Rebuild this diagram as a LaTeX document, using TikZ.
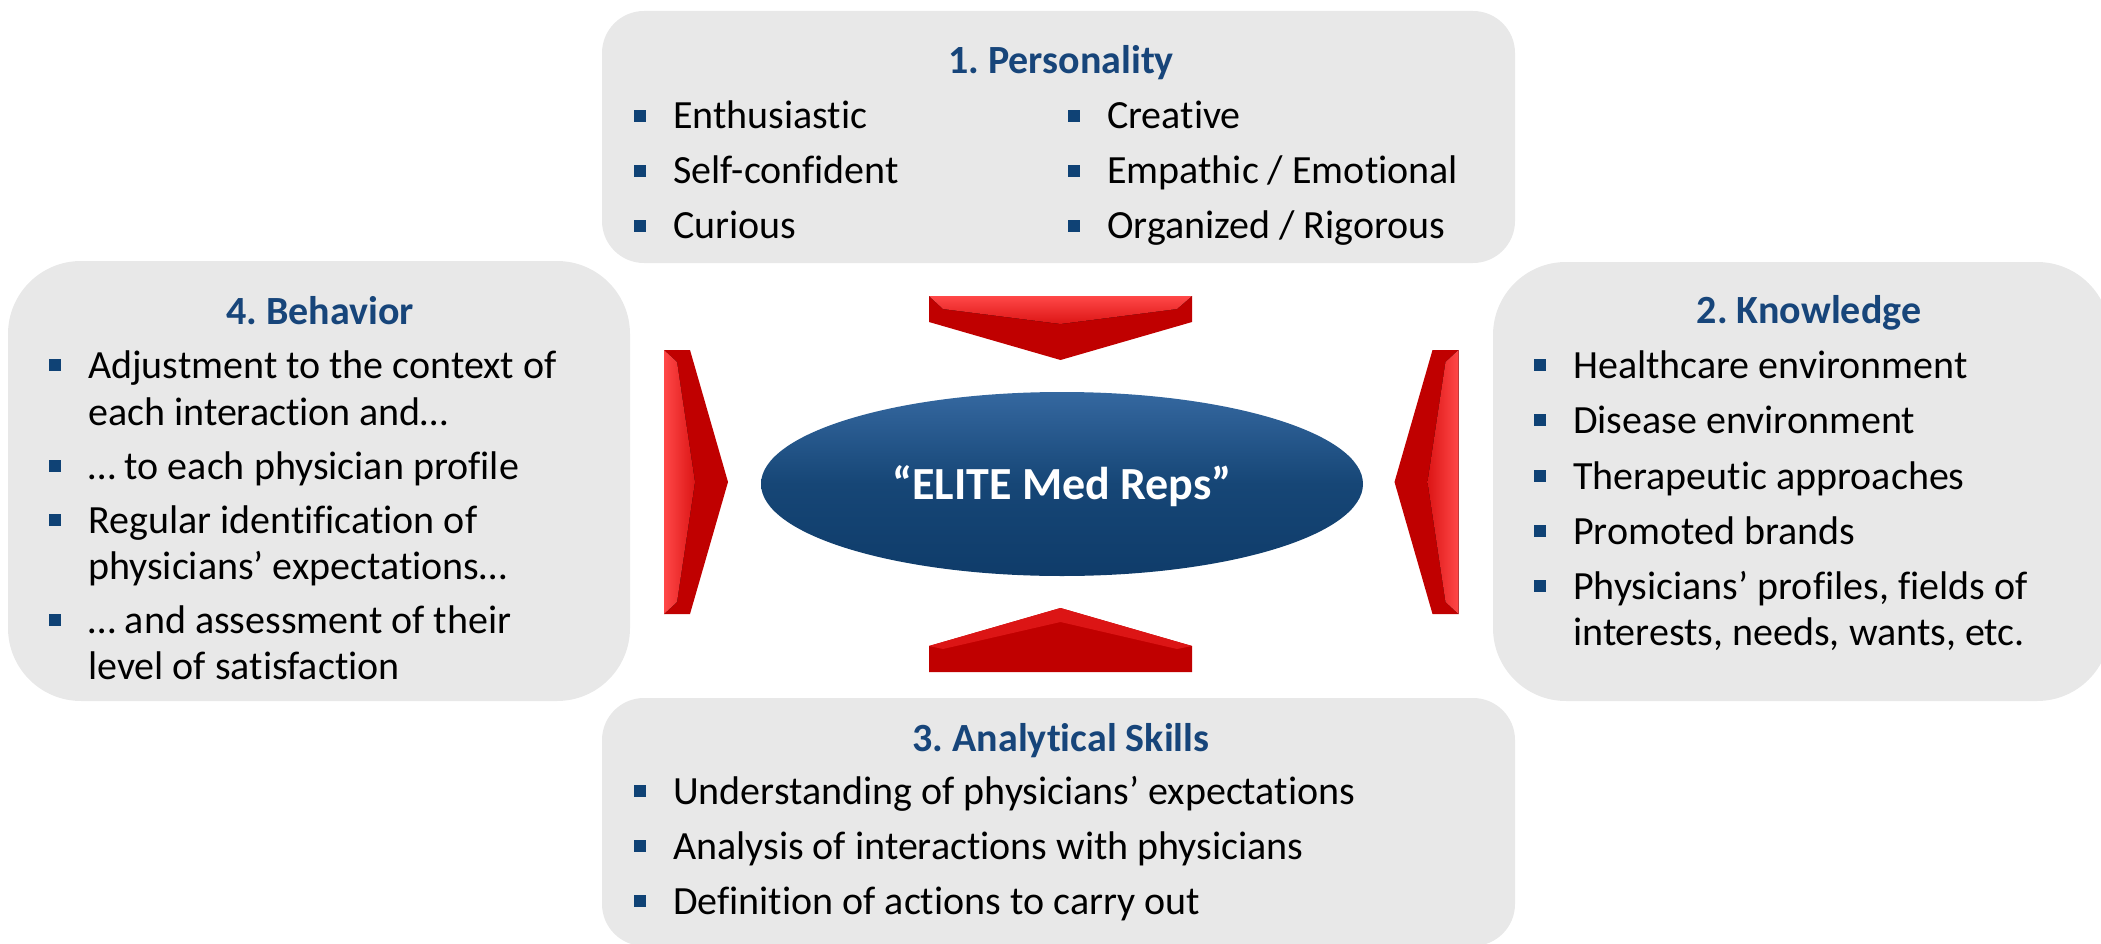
\documentclass[tikz,border=0pt]{standalone}
\usepackage{fontspec}
\setmainfont{Carlito}[Ligatures={NoCommon}]
\frenchspacing
\usetikzlibrary{shapes.geometric}
\definecolor{boxgray}{HTML}{E8E8E8}
\definecolor{titleblue}{HTML}{17457A}
\definecolor{bulblue}{HTML}{0F4275}
\definecolor{arrdark}{HTML}{C00000}
\definecolor{arrmid}{HTML}{DC1515}
\definecolor{arrlight}{HTML}{FF4848}
\definecolor{elltop}{HTML}{3568A0}
\definecolor{ellmid}{HTML}{164676}
\definecolor{ellbot}{HTML}{0F3C6A}
\newcommand{\mybul}[4]{%
  \node[bul] (#1m) at (#2-33,#3-13) {};
  \node[txt] (#1) at (#2,#3) {#4};}
\begin{document}
\begin{tikzpicture}[x=1pt,y=-1pt,
 box/.style={fill=boxgray, draw=none, inner sep=0},
 title/.style={font=\fontsize{40}{46}\selectfont\bfseries, text=titleblue, anchor=base, inner sep=0},
 txt/.style={font=\fontsize{40}{46}\selectfont, anchor=base west, inner sep=0},
 bul/.style={fill=bulblue, minimum size=12pt, inner sep=0},
 arrow base/.style={fill=arrdark},
]
\useasboundingbox (0,0) rectangle (2101,944);
% boxes
\node[box, minimum width=913pt, minimum height=252pt, rounded corners=42pt] (pers) at (1058.5,137) {};
\node[box, minimum width=622pt, minimum height=440pt, rounded corners=73pt] (beh) at (319,481) {};
\node[box, minimum width=617pt, minimum height=439pt, rounded corners=73pt] (know) at (1801.5,481.5) {};
\node[box, minimum width=913pt, minimum height=248pt, rounded corners=42pt] (anal) at (1058.5,822) {};
% arrows
\fill[arrow base] (929,296) -- (1192,296) -- (1192,322) -- (1060.5,360) -- (929,322) -- cycle;
\fill[top color=arrlight, bottom color=arrmid] (929,296) -- (1192,296) -- (1177,309) -- (1060.5,324) -- (943,309) -- cycle;
\fill[arrow base] (929,672) -- (1192,672) -- (1192,646) -- (1060.5,608) -- (929,646) -- cycle;
\fill[arrmid] (929,646) -- (1060.5,608) -- (1192,646) -- (1177,649) -- (1060.5,622) -- (943,649) -- cycle;
\fill[arrow base] (664,350) -- (690,350) -- (728,482) -- (690,614) -- (664,614) -- cycle;
\fill[left color=arrlight, right color=arrmid] (664,350) -- (677,362) -- (695,482) -- (677,602) -- (664,614) -- cycle;
\fill[arrow base] (1458.5,350) -- (1432.5,350) -- (1394.5,482) -- (1432.5,614) -- (1458.5,614) -- cycle;
\fill[left color=arrmid, right color=arrlight] (1458.5,350) -- (1445.5,362) -- (1427.5,482) -- (1445.5,602) -- (1458.5,614) -- cycle;
% core
\node[ellipse, minimum width=602pt, minimum height=184pt, inner sep=0, top color=elltop, bottom color=ellbot, middle color=ellmid] (core) at (1062,484) {};
\node[font=\fontsize{46}{50}\selectfont\bfseries, text=white, anchor=base, inner sep=0] (coretxt) at (1062,499) {“ELITE Med Reps”};
% titles
\node[title] (t1) at (1061,74) {1. Personality};
\node[title] (t4) at (320,324) {4. Behavior};
\node[title] (t2) at (1809,323) {2. Knowledge};
\node[title] (t3) at (1061,751) {3. Analytical Skills};
% personality
\mybul{p1}{673}{129}{Enthusiastic}
\mybul{p2}{673}{184}{Self-confident}
\mybul{p3}{673}{239}{Curious}
\mybul{p4}{1107}{129}{Creative}
\mybul{p5}{1107}{184}{Empathic / Emotional}
\mybul{p6}{1107}{239}{Organized / Rigorous}
% behavior
\mybul{b1}{88}{378}{Adjustment to the context of}
\node[txt] (b1x) at (88,425) {each interaction and…};
\mybul{b2}{88}{479}{… to each physician profile}
\mybul{b3}{88}{533}{Regular identification of}
\node[txt] (b3x) at (88,579) {physicians’ expectations…};
\mybul{b4}{88}{633}{… and assessment of their}
\node[txt] (b4x) at (88,679) {level of satisfaction};
% knowledge
\mybul{k1}{1573}{378}{Healthcare environment}
\mybul{k2}{1573}{433}{Disease environment}
\mybul{k3}{1573}{489}{Therapeutic approaches}
\mybul{k4}{1573}{544}{Promoted brands}
\mybul{k5}{1573}{599}{Physicians’ profiles, fields of}
\node[txt] (k5x) at (1573,645) {interests, needs, wants, etc.};
% analytical
\mybul{a1}{673}{804}{Understanding of physicians’ expectations}
\mybul{a2}{673}{859}{Analysis of interactions with physicians}
\mybul{a3}{673}{914}{Definition of actions to carry out}
\end{tikzpicture}
\end{document}
